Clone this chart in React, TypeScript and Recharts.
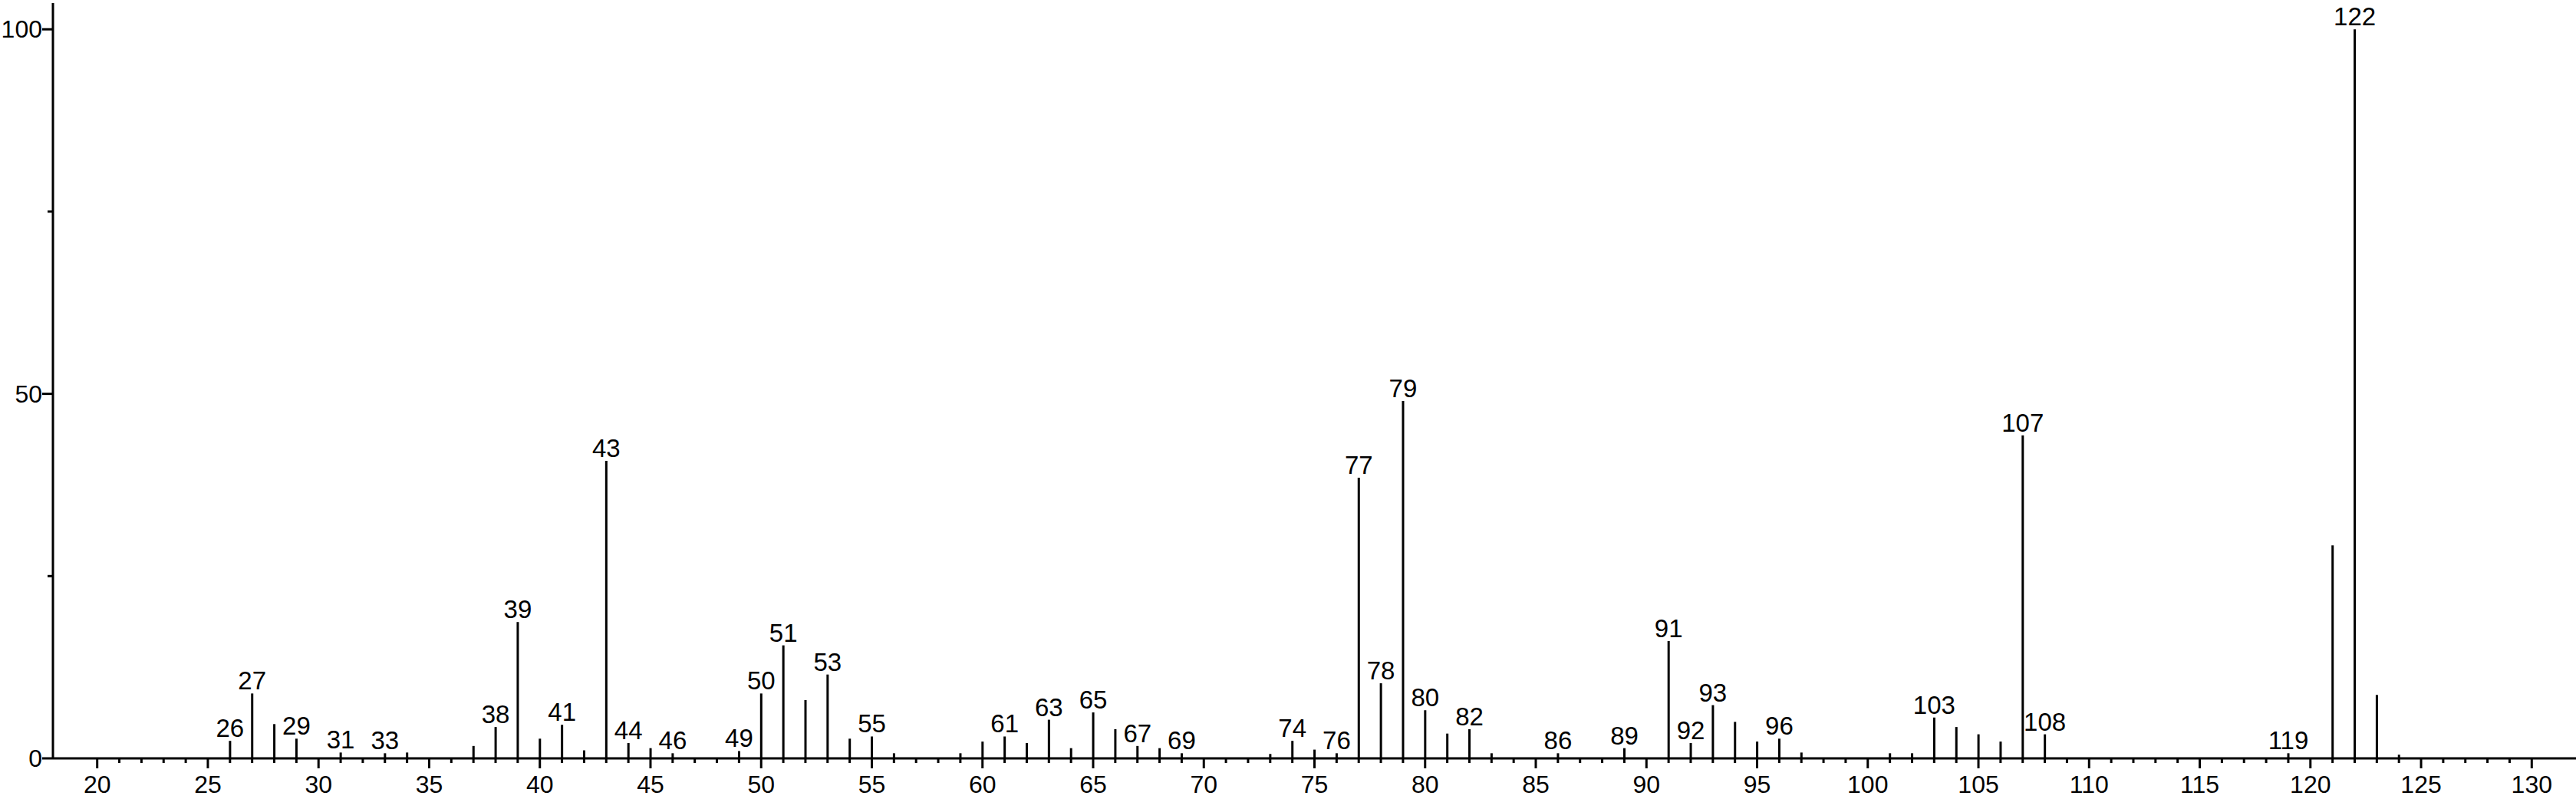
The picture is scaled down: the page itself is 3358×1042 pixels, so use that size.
import { BarChart, Bar, XAxis, YAxis, LabelList } from 'recharts'

// m/z and relative intensity (%)
const MZ = [
  26, 27, 28, 29, 31, 33, 34, 37, 38, 39,
  40, 41, 42, 43, 44, 45, 46, 49, 50, 51,
  52, 53, 54, 55, 56, 59, 60, 61, 62, 63,
  64, 65, 66, 67, 68, 69, 73, 74, 75, 76,
  77, 78, 79, 80, 81, 82, 83, 86, 89, 91,
  92, 93, 94, 95, 96, 97, 101, 102, 103, 104,
  105, 106, 107, 108, 119, 121, 122, 123, 124,
]
const INTENSITY = [
  2.4, 8.9, 4.7, 2.7, 0.8, 0.7, 0.8, 1.7, 4.3, 18.7,
  2.7, 4.6, 1.1, 40.8, 2.1, 1.4, 0.7, 1.0, 8.9, 15.5,
  8.0, 11.5, 2.7, 3.0, 0.7, 0.7, 2.3, 3.0, 2.1, 5.3,
  1.4, 6.3, 4.0, 1.7, 1.4, 0.7, 0.6, 2.4, 1.2, 0.7,
  38.5, 10.3, 49.0, 6.6, 3.4, 4.0, 0.7, 0.7, 1.4, 16.1,
  2.1, 7.3, 5.0, 2.3, 2.7, 0.8, 0.7, 0.7, 5.6, 4.3,
  3.3, 2.3, 44.3, 3.3, 0.7, 29.2, 100, 8.7, 0.5,
]
// peaks that carry their m/z as a label
const LABELED = [
  26, 27, 29, 31, 33, 38, 39, 41, 43, 44, 46, 49, 50, 51, 53, 55,
  61, 63, 65, 67, 69, 74, 76, 77, 78, 79, 80, 82, 86, 89, 91, 92,
  93, 96, 103, 107, 108, 119, 122,
]

const X_TICKS = Array.from({ length: 111 }, (_, i) => 20 + i)
const Y_TICKS = [0, 25, 50, 75, 100]
const Y_LABELS = [0, 50, 100]

const FONT = '"Liberation Sans", Arial, sans-serif'

const data = MZ.map((mz, i) => ({
  mz,
  intensity: INTENSITY[i],
  label: LABELED.includes(mz) ? String(mz) : '',
}))

function XTick({ x, y, payload }: any) {
  const major = payload.value % 5 === 0
  return (
    <g>
      <line x1={x} x2={x} y1={y} y2={y + (major ? 13 : 6)} stroke="#000" strokeWidth={3} />
      {major && (
        <text x={x} y={y + 45} textAnchor="middle" fontSize={32} fontFamily={FONT} fill="#000">
          {payload.value}
        </text>
      )}
    </g>
  )
}

function YTick({ x, y, payload }: any) {
  const major = Y_LABELS.includes(payload.value)
  return (
    <g>
      <line x1={x - (major ? 14 : 7)} x2={x} y1={y} y2={y} stroke="#000" strokeWidth={3} />
      {major && (
        <text x={x - 14} y={y + 11} textAnchor="end" fontSize={32} fontFamily={FONT} fill="#000">
          {payload.value}
        </text>
      )}
    </g>
  )
}

export default function App() {
  return (
    <div style={{ position: 'absolute', left: 0, top: 0, width: 3358, height: 1042, background: '#fff' }}>
      <BarChart width={3358} height={1042} data={data} margin={{ top: 4, right: 0, bottom: 0, left: 0 }}>
        <XAxis
          dataKey="mz" type="number" domain={[18, 132]} ticks={X_TICKS} interval={0}
          height={53} tickSize={0} tickMargin={0} tickLine={false}
          axisLine={{ stroke: '#000', strokeWidth: 3 }} tick={<XTick />} allowDataOverflow
        />
        <YAxis
          type="number" domain={[0, 103.6]} ticks={Y_TICKS} interval={0}
          width={69} tickSize={0} tickMargin={0} tickLine={false}
          axisLine={{ stroke: '#000', strokeWidth: 3 }} tick={<YTick />} allowDataOverflow
        />
        <Bar dataKey="intensity" fill="#000" barSize={3} isAnimationActive={false}>
          <LabelList dataKey="label" position="top" offset={5} fontSize={33} fontFamily={FONT} fill="#000" />
        </Bar>
      </BarChart>
    </div>
  )
}
